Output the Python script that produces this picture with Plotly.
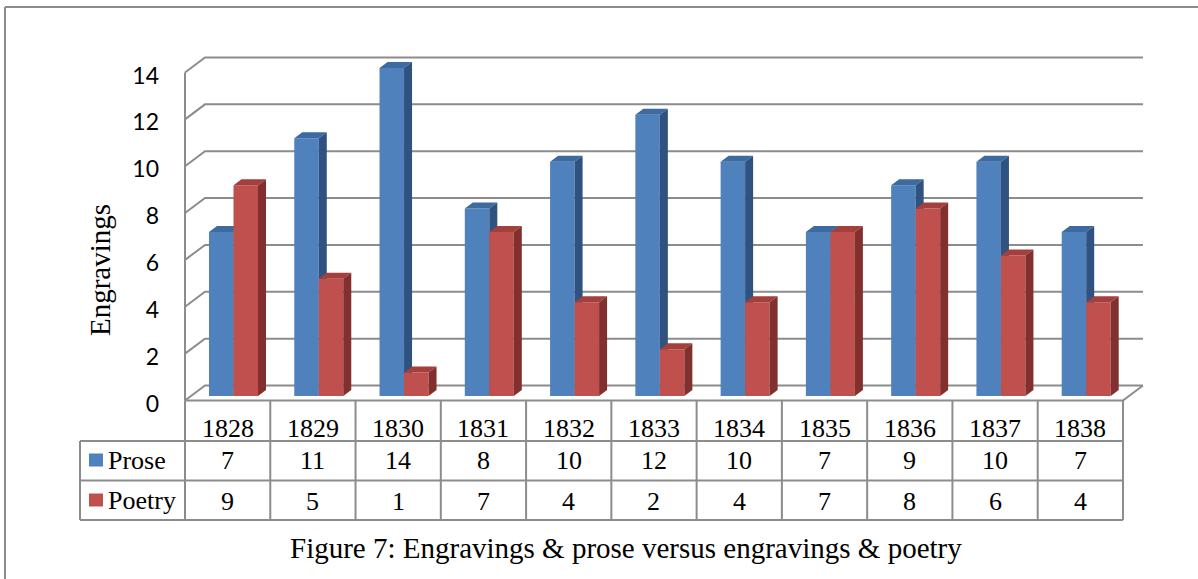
import plotly.graph_objects as go

# ---- data ----
years = ["1828", "1829", "1830", "1831", "1832", "1833", "1834", "1835", "1836", "1837", "1838"]
prose = [7, 11, 14, 8, 10, 12, 10, 7, 9, 10, 7]
poetry = [9, 5, 1, 7, 4, 2, 4, 7, 8, 6, 4]
y_ticks = [0, 2, 4, 6, 8, 10, 12, 14]
series_names = ["Prose", "Poetry"]
caption = "Figure 7: Engravings & prose versus engravings & poetry"
y_title = "Engravings"

# ---- geometry (pixel frame -> data units) ----
W, H = 1198, 579
PX_X0 = 185.0      # left edge of first category on the front plane
CAT_W = 85.27      # pixels per category
PX_Y0 = 400.5      # value 0 on the front plane
UNIT = 23.43       # pixels per value unit


def xd(px):
    return (px - PX_X0) / CAT_W


def yd(py):
    return (PX_Y0 - py) / UNIT


n = len(years)
back_dx, back_dy = xd(PX_X0 + 20), 15 / UNIT       # depth of the back wall
bar_dx, bar_dy = 8 / CAT_W, 6 / UNIT               # depth of each column
bar_lift = 4.5 / UNIT                              # columns sit slightly behind the front edge
bar_w = 24.5 / CAT_W
bar_off = 24 / CAT_W

GRID = "#8c8c8c"
BLUE = ("#4f81bd", "#3d6a9f", "#2f5281")
RED = ("#c0504d", "#a3403d", "#82302e")

fig = go.Figure()


def line_trace(xs, ys, color=GRID, width=2):
    fig.add_trace(go.Scatter(x=xs, y=ys, mode="lines", hoverinfo="skip",
                             line=dict(color=color, width=width), showlegend=False))


# walls: gridlines with the oblique left wall and floor
gx, gy = [], []
for v in y_ticks:
    gx += [0, back_dx, n + back_dx, None]
    gy += [v, v + back_dy, v + back_dy, None]
gx += [0, 0, None, 0, n, n + back_dx, None]
gy += [0, max(y_ticks), None, 0, 0, back_dy, None]
line_trace(gx, gy)


def columns(values, slot, colors):
    front_x, front_y, top_x, top_y, side_x, side_y = [], [], [], [], [], []
    for i, v in enumerate(values):
        x0 = i + bar_off + slot * bar_w
        x1 = x0 + bar_w
        b = bar_lift
        t = v + bar_lift
        front_x += [x0, x1, x1, x0, x0, None]
        front_y += [b, b, t, t, b, None]
        top_x += [x0, x1, x1 + bar_dx, x0 + bar_dx, x0, None]
        top_y += [t, t, t + bar_dy, t + bar_dy, t, None]
        side_x += [x1, x1 + bar_dx, x1 + bar_dx, x1, x1, None]
        side_y += [b, b + bar_dy, t + bar_dy, t, b, None]
    for xs, ys, c in ((front_x, front_y, colors[0]), (top_x, top_y, colors[1]),
                      (side_x, side_y, colors[2])):
        fig.add_trace(go.Scatter(x=xs, y=ys, mode="lines", fill="toself", fillcolor=c,
                                 line=dict(width=0, color=c), hoverinfo="skip",
                                 showlegend=False))


columns(prose, 0, BLUE)
columns(poetry, 1, RED)

# ---- data table ----
row_top = yd(400.5)
row1 = yd(441)
row2 = yd(480.5)
row3 = yd(520)
left = xd(80)
tx, ty = [], []
for k in range(n + 1):
    tx += [k, k, None]
    ty += [row_top, row3, None]
for r in (row1, row2, row3):
    tx += [left, n, None]
    ty += [r, r, None]
tx += [left, left, None]
ty += [row1, row3, None]
line_trace(tx, ty)

SERIF = "Liberation Serif, Times New Roman, serif"
ann = []
for i, yr in enumerate(years):
    ann.append(dict(x=i + 0.5, y=yd(428), text=yr))
    ann.append(dict(x=i + 0.5, y=yd(460), text=str(prose[i])))
    ann.append(dict(x=i + 0.5, y=yd(501), text=str(poetry[i])))
for a in ann:
    a.update(xref="x", yref="y", showarrow=False, xanchor="center", yanchor="middle",
             font=dict(family=SERIF, size=26, color="black"))

for name, yc, col in ((series_names[0], 460, BLUE[0]), (series_names[1], 500, RED[0])):
    ann.append(dict(x=xd(106), y=yd(yc), text=name, xref="x", yref="y", showarrow=False,
                    xanchor="left", yanchor="middle",
                    font=dict(family=SERIF, size=26, color="black")))
    fig.add_shape(type="rect", xref="x", yref="y", x0=xd(89), x1=xd(103),
                  y0=yd(yc - 6.5), y1=yd(yc + 6.5), fillcolor=col, line=dict(width=0))

ann.append(dict(x=xd(100), y=yd(270), text=y_title, textangle=-90, xref="x", yref="y",
                showarrow=False, xanchor="center", yanchor="middle",
                font=dict(family=SERIF, size=29, color="black")))
ann.append(dict(x=xd(626), y=yd(548), text=caption, xref="x", yref="y",
                showarrow=False, xanchor="center", yanchor="middle",
                font=dict(family=SERIF, size=29, color="black")))

# outer frame
fig.add_shape(type="line", xref="paper", yref="paper", x0=5 / W, x1=5 / W, y0=0, y1=1 - 7 / H,
              line=dict(color=GRID, width=2))
fig.add_shape(type="line", xref="paper", yref="paper", x0=5 / W, x1=1, y0=1 - 7 / H, y1=1 - 7 / H,
              line=dict(color=GRID, width=2))

fig.update_layout(
    width=W, height=H, margin=dict(l=0, r=0, t=0, b=0),
    paper_bgcolor="white", plot_bgcolor="white",
    annotations=ann, showlegend=False,
    xaxis=dict(range=[xd(0), xd(W)], visible=False, fixedrange=True),
    yaxis=dict(range=[yd(H), yd(0)], anchor="free", position=159 / W,
               tickvals=y_ticks, ticktext=[str(v) for v in y_ticks],
               showgrid=False, zeroline=False, showline=False, ticks="",
               ticklabelstandoff=0, ticklabelshift=3,
               tickfont=dict(family="Lato, Open Sans, sans-serif", size=23, color="black"),
               fixedrange=True),
)

fig.write_html("out.html")
